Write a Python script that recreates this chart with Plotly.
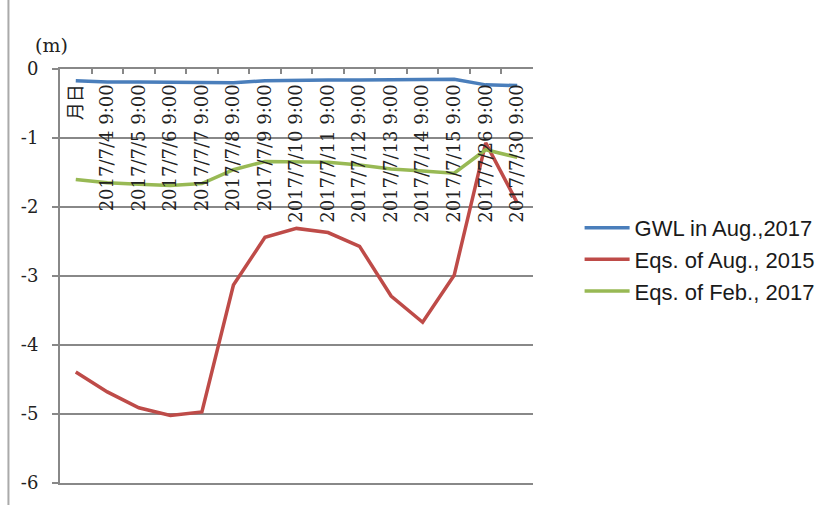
import plotly.graph_objects as go

categories = ["月日", "2017/7/4 9:00", "2017/7/5 9:00", "2017/7/6 9:00", "2017/7/7 9:00",
              "2017/7/8 9:00", "2017/7/9 9:00", "2017/7/10 9:00", "2017/7/11 9:00",
              "2017/7/12 9:00", "2017/7/13 9:00", "2017/7/14 9:00", "2017/7/15 9:00",
              "2017/7/26 9:00", "2017/7/30 9:00"]

gwl_aug_2017 = [-0.17, -0.19, -0.19, -0.19, -0.19, -0.20, -0.17, -0.16, -0.16,
                -0.16, -0.16, -0.16, -0.15, -0.23, -0.24]
eqs_aug_2015 = [-4.39, -4.68, -4.91, -5.02, -4.97, -3.13, -2.44, -2.31, -2.37,
                -2.57, -3.29, -3.67, -2.99, -1.07, -1.94]
eqs_feb_2017 = [-1.60, -1.65, -1.67, -1.69, -1.66, -1.46, -1.34, -1.34, -1.35,
                -1.39, -1.45, -1.48, -1.51, -1.17, -1.28]

y_ticks = [0, -1, -2, -3, -4, -5, -6]

series = [
    ("GWL in Aug.,2017", gwl_aug_2017, "#4a7ebb"),
    ("Eqs. of Aug., 2015", eqs_aug_2015, "#be4b48"),
    ("Eqs. of Feb., 2017", eqs_feb_2017, "#98b954"),
]

fig = go.Figure()
for name, vals, col in series:
    fig.add_trace(go.Scatter(x=categories, y=vals, mode="lines", name=name,
                             line=dict(color=col, width=3.5)))

# invisible carrier trace so the label axis knows the categories
fig.add_trace(go.Scatter(x=categories, y=gwl_aug_2017, xaxis="x2", mode="lines",
                         line=dict(width=0, color="rgba(0,0,0,0)"), opacity=0,
                         showlegend=False, hoverinfo="skip"))

serif = "DejaVu Serif, Noto Sans CJK JP, serif"
fig.update_layout(
    width=832, height=505,
    margin=dict(l=60, r=295, t=69, b=20),
    paper_bgcolor="white", plot_bgcolor="white",
    showlegend=True,
    legend=dict(x=1.0985, y=0.54, xanchor="left", yanchor="middle", itemwidth=45,
                font=dict(family="Liberation Sans, Arial, sans-serif", size=22, color="#1a1a1a"),
                bgcolor="rgba(0,0,0,0)", tracegroupgap=0),
    xaxis=dict(type="category", side="top", range=[-0.5, 14.5],
               categoryorder="array", categoryarray=categories,
               showticklabels=False,
               tickson="boundaries", ticks="inside", ticklen=5, tickwidth=2, tickcolor="#888",
               showline=True, linecolor="#888", linewidth=2, mirror=True,
               showgrid=False, zeroline=False),
    xaxis2=dict(type="category", overlaying="x", anchor="free", position=0.974,
                side="bottom", range=[-0.5, 14.5],
                categoryorder="array", categoryarray=categories,
                tickangle=-90, ticks="", showline=False, showgrid=False, zeroline=False,
                tickfont=dict(family=serif, size=18, color="#222")),
    yaxis=dict(range=[-6, 0], tickvals=y_ticks, ticktext=[str(v) for v in y_ticks],
               tickfont=dict(family=serif, size=18, color="#222"),
               ticks="outside", ticklen=6, tickwidth=2, tickcolor="#888",
               ticklabelstandoff=10,
               showline=True, linecolor="#888", linewidth=2,
               showgrid=True, gridcolor="#888", gridwidth=2, zeroline=False),
    shapes=[dict(type="line", xref="paper", yref="paper", x0=-0.109, x1=-0.109,
                 y0=-0.06, y1=1.18, line=dict(color="#aaa", width=2))],
    annotations=[dict(text="(m)", xref="paper", yref="paper", x=-0.017, y=1.058,
                      xanchor="center", yanchor="middle",
                      showarrow=False, font=dict(family=serif, size=19, color="#222"))],
)

fig.write_html("out.html")
